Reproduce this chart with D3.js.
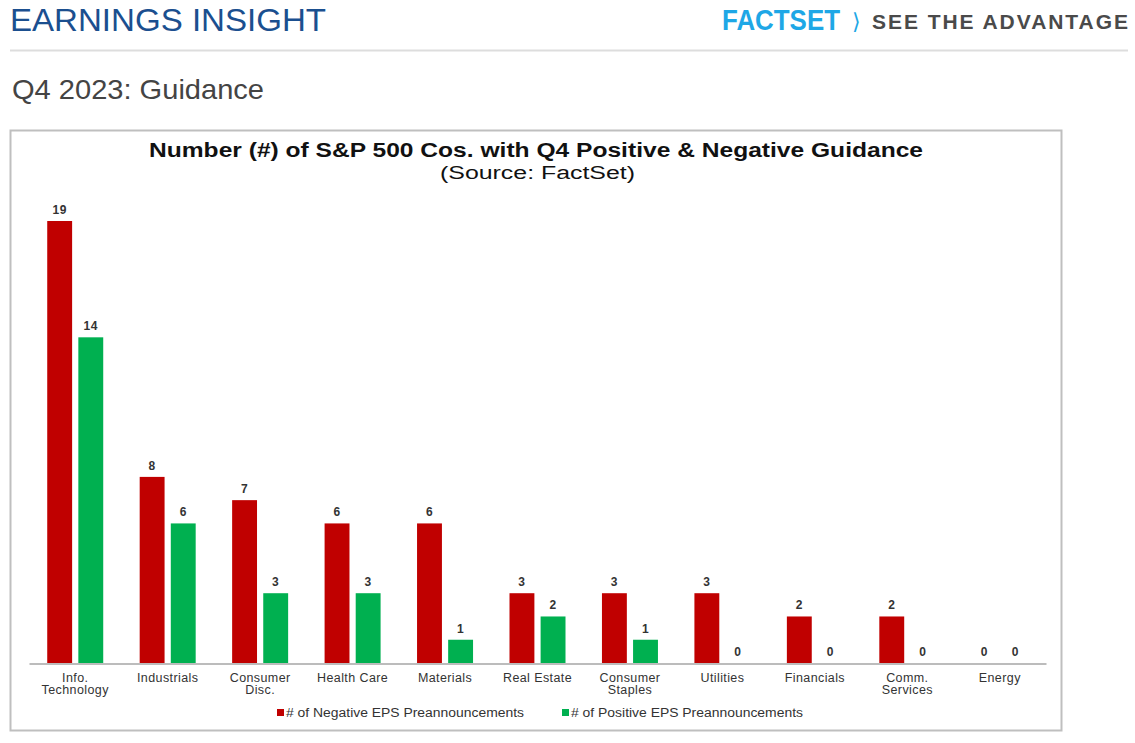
<!DOCTYPE html>
<html>
<head>
<meta charset="utf-8">
<script src="https://cdn.jsdelivr.net/npm/d3@7"></script>
<style>
  body { margin: 0; background: #fff; }
  svg { display: block; }
</style>
</head>
<body>
<script>
var w = 1135;
var h = 743;

// data
var categories = [["Info.", "Technology"], ["Industrials"], ["Consumer", "Disc."], ["Health Care"],
    ["Materials"], ["Real Estate"], ["Consumer", "Staples"], ["Utilities"], ["Financials"],
    ["Comm.", "Services"], ["Energy"]];
var negative = [19, 8, 7, 6, 6, 3, 3, 3, 2, 2, 0];
var positive = [14, 6, 3, 3, 1, 2, 1, 0, 0, 0, 0];
var seriesNames = ["# of Negative EPS Preannouncements", "# of Positive EPS Preannouncements"];
var seriesColors = ["#c00000", "#00b050"];

var font = "'Liberation Sans', Arial, sans-serif";

var svg = d3.select("body").append("svg")
    .attr("width", w)
    .attr("height", h);

// page header
svg.append("text")
    .attr("x", 10).attr("y", 31)
    .attr("font-family", font)
    .attr("font-size", "32px")
    .attr("textLength", 316).attr("lengthAdjust", "spacingAndGlyphs")
    .attr("fill", "#1b4f8f")
    .text("EARNINGS INSIGHT");

svg.append("text")
    .attr("x", 722).attr("y", 30)
    .attr("font-family", font)
    .attr("font-weight", "bold")
    .attr("font-size", "29px")
    .attr("textLength", 118).attr("lengthAdjust", "spacingAndGlyphs")
    .attr("fill", "#1ea7e6")
    .text("FACTSET");

svg.append("text")
    .attr("x", 852).attr("y", 29)
    .attr("font-family", "'DejaVu Sans', sans-serif")
    .attr("font-size", "22px")
    .attr("fill", "#1ea7e6")
    .text("\u27E9");

svg.append("text")
    .attr("x", 872).attr("y", 29)
    .attr("font-family", font)
    .attr("font-weight", "bold")
    .attr("font-size", "21px")
    .attr("textLength", 256).attr("lengthAdjust", "spacing")
    .attr("fill", "#4a4a4a")
    .text("SEE THE ADVANTAGE");

svg.append("line")
    .attr("x1", 10).attr("x2", 1128)
    .attr("y1", 50.5).attr("y2", 50.5)
    .attr("stroke", "#dddddd").attr("stroke-width", 2);

svg.append("text")
    .attr("x", 12).attr("y", 99)
    .attr("font-family", font)
    .attr("font-size", "28px")
    .attr("textLength", 252).attr("lengthAdjust", "spacingAndGlyphs")
    .attr("fill", "#444")
    .text("Q4 2023: Guidance");

// chart frame
svg.append("rect")
    .attr("x", 10.5).attr("y", 130.5)
    .attr("width", 1051).attr("height", 600)
    .attr("fill", "#fff")
    .attr("stroke", "#bfbfbf").attr("stroke-width", 2);

svg.append("text")
    .attr("x", 149).attr("y", 157)
    .attr("font-family", font)
    .attr("font-weight", "bold")
    .attr("font-size", "20px")
    .attr("textLength", 774).attr("lengthAdjust", "spacingAndGlyphs")
    .attr("fill", "#111")
    .text("Number (#) of S&P 500 Cos. with Q4 Positive & Negative Guidance");

svg.append("text")
    .attr("x", 440).attr("y", 179)
    .attr("font-family", font)
    .attr("font-size", "18px")
    .attr("textLength", 195).attr("lengthAdjust", "spacingAndGlyphs")
    .attr("fill", "#111")
    .text("(Source: FactSet)");

// scales
var x0 = d3.scaleBand().domain(d3.range(categories.length)).range([29, 1046]);
var x1 = d3.scaleBand().domain([0, 1]).range([-28, 28]).paddingInner(0.2);
var y = d3.scaleLinear().domain([0, 19]).range([663, 221]);

var groups = svg.selectAll("g.grp")
    .data(categories)
    .enter()
    .append("g")
    .attr("class", "grp")
    .attr("transform", function(d, i) {
        return "translate(" + (x0(i) + x0.bandwidth() / 2) + ",0)";
    });

var series = [negative, positive];

groups.each(function(d, i) {
    var g = d3.select(this);
    series.forEach(function(s, k) {
        var v = s[i];
        g.append("rect")
            .attr("x", x1(k))
            .attr("y", y(v))
            .attr("width", x1.bandwidth())
            .attr("height", y(0) - y(v))
            .attr("fill", seriesColors[k]);
        g.append("text")
            .attr("x", x1(k) + x1.bandwidth() / 2)
            .attr("y", y(v) - 7)
            .attr("text-anchor", "middle")
            .attr("font-family", font)
            .attr("font-weight", "bold")
            .attr("font-size", "12px")
            .attr("letter-spacing", "0.5px")
            .attr("fill", "#333")
            .text(v);
    });
    d.forEach(function(line, j) {
        g.append("text")
            .attr("x", 0)
            .attr("y", 682 + j * 12)
            .attr("text-anchor", "middle")
            .attr("font-family", font)
            .attr("font-size", "12.5px")
            .attr("letter-spacing", "0.4px")
            .attr("fill", "#333")
            .text(line);
    });
});

// axis line
var xAxis = d3.axisBottom(d3.scaleLinear().range([29, 1046])).ticks(0).tickSize(0);
svg.append("g")
    .attr("transform", "translate(0,663.5)")
    .call(xAxis)
    .call(function(g) {
        g.select(".domain").attr("stroke", "#a6a6a6").attr("stroke-width", 1.5);
        g.selectAll("text").remove();
    });

// legend
var legendX = [277, 562];
var legendLen = [238, 232];
seriesNames.forEach(function(name, k) {
    svg.append("rect")
        .attr("x", legendX[k]).attr("y", 709)
        .attr("width", 7).attr("height", 7)
        .attr("fill", seriesColors[k]);
    svg.append("text")
        .attr("x", legendX[k] + 9).attr("y", 717)
        .attr("font-family", font)
        .attr("font-size", "12.5px")
        .attr("textLength", legendLen[k]).attr("lengthAdjust", "spacingAndGlyphs")
        .attr("fill", "#333")
        .text(name);
});
</script>
</body>
</html>
